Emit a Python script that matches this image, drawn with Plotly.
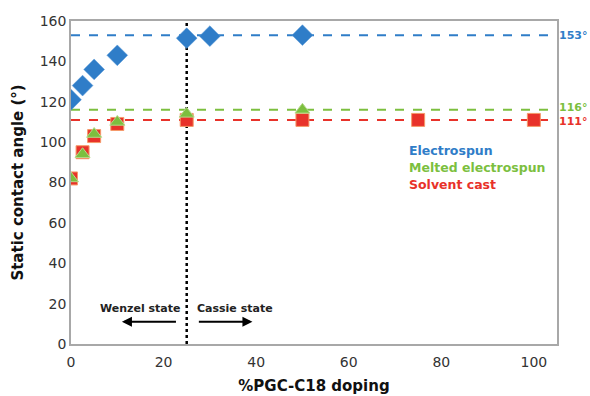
import plotly.graph_objects as go

# Data
es_x = [0, 2.5, 5, 10, 25, 30, 50]
es_y = [121, 128, 136, 143, 151.5, 152.5, 153]
mes_x = [0, 2.5, 5, 10, 25, 50]
mes_y = [82, 94, 104, 110, 114, 116]
sc_x = [0, 2.5, 5, 10, 25, 50, 75, 100]
sc_y = [82, 95, 103, 109, 111, 111, 111, 111]

plateau_vals = [153, 116, 111]
plateau_labels = ["153°", "116°", "111°"]
label_shifts = [0, 2, -2]
series_names = ["Electrospun", "Melted electrospun", "Solvent cast"]
colors = ["#2f7dc8", "#7cbf3f", "#e8322a"]
transition_x = 25
x_range = [0, 105]
y_range = [0, 160]
x_ticks = [0, 20, 40, 60, 80, 100]
y_ticks = [0, 20, 40, 60, 80, 100, 120, 140, 160]

FONT = "DejaVu Sans"
fig = go.Figure()

# plateau dashed lines
for v, c in zip(plateau_vals, colors):
    fig.add_trace(go.Scatter(x=x_range, y=[v, v], mode="lines",
                             line=dict(color=c, width=2, dash="dash"),
                             showlegend=False, hoverinfo="skip"))

# vertical dotted line
fig.add_trace(go.Scatter(x=[transition_x, transition_x], y=y_range, mode="lines",
                         line=dict(color="black", width=2.5, dash="dot"),
                         showlegend=False, hoverinfo="skip"))

fig.add_trace(go.Scatter(x=sc_x, y=sc_y, mode="markers", name=series_names[2],
                         marker=dict(symbol="square", size=13, color=colors[2],
                                     line=dict(color="#f59a6a", width=1))))
fig.add_trace(go.Scatter(x=mes_x, y=mes_y, mode="markers", name=series_names[1],
                         marker=dict(symbol="triangle-up", size=13, color=colors[1],
                                     line=dict(color="#b5d98a", width=1))))
fig.add_trace(go.Scatter(x=es_x, y=es_y, mode="markers", name=series_names[0],
                         marker=dict(symbol="diamond", size=16, color=colors[0],
                                     line=dict(color="#5a9ad8", width=0.5))))

annotations = []
# plateau labels
for v, lab, c, s in zip(plateau_vals, plateau_labels, colors, label_shifts):
    annotations.append(dict(x=1, xref="paper", y=v, yref="y", text="<b>%s</b>" % lab,
                            showarrow=False, xanchor="left", xshift=0, yshift=s,
                            font=dict(family=FONT, size=11, color=c)))
# legend-like text
for i, (n, c) in enumerate(zip(series_names, colors)):
    annotations.append(dict(x=72.5, xref="x", y=96 - i * 8.6, yref="y",
                            text="<b>%s</b>" % n, showarrow=False, xanchor="left",
                            font=dict(family=FONT, size=12.5, color=c)))
# state annotations
annotations.append(dict(x=15, y=17.8, text="<b>Wenzel state</b>", showarrow=False,
                        font=dict(family=FONT, size=11, color="#222")))
annotations.append(dict(x=35.5, y=17.8, text="<b>Cassie state</b>", showarrow=False,
                        font=dict(family=FONT, size=11, color="#222")))
annotations.append(dict(x=11, y=11, ax=23, ay=11, xref="x", yref="y", axref="x", ayref="y",
                        showarrow=True, arrowhead=2, arrowsize=1, arrowwidth=2,
                        arrowcolor="black", text=""))
annotations.append(dict(x=39.2, y=11, ax=27.3, ay=11, xref="x", yref="y", axref="x", ayref="y",
                        showarrow=True, arrowhead=2, arrowsize=1, arrowwidth=2,
                        arrowcolor="black", text=""))

fig.update_layout(
    width=590, height=396,
    margin=dict(l=71, r=33, t=21, b=52),
    paper_bgcolor="white", plot_bgcolor="white",
    showlegend=False,
    annotations=annotations,
    xaxis=dict(range=x_range, tickvals=x_ticks, showgrid=False, zeroline=False,
               showline=True, linecolor="#a8a8a8", linewidth=1.5, mirror=True,
               ticks="", ticklabelstandoff=4, automargin=False,
               tickfont=dict(family=FONT, size=14, color="#333"),
               title=dict(text="<b>%PGC-C18 doping</b>", standoff=12,
                          font=dict(family=FONT, size=15, color="#111"))),
    yaxis=dict(range=y_range, tickvals=y_ticks, showgrid=False, zeroline=False,
               showline=True, linecolor="#a8a8a8", linewidth=1.5, mirror=True,
               ticks="", automargin=False,
               tickfont=dict(family=FONT, size=14, color="#333"),
               title=dict(text="<b>Static contact angle (°)</b>", standoff=12,
                          font=dict(family=FONT, size=15, color="#111"))),
)

fig.write_html("out.html")
